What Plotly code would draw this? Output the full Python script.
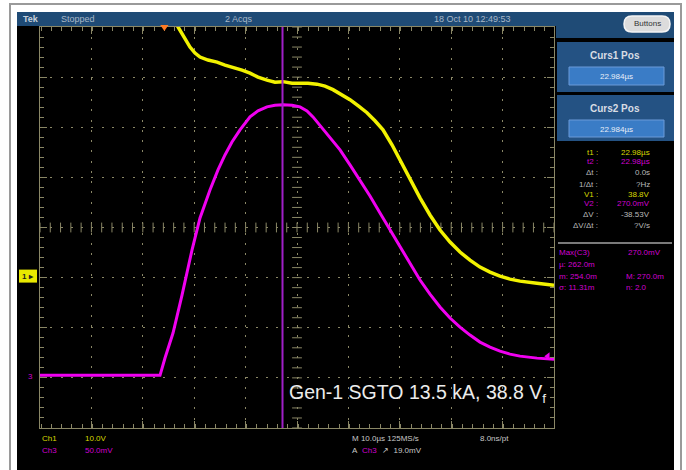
import numpy as np
import plotly.graph_objects as go

# ---------------- data ----------------
ch1_time_us = [1.09, 2.65, 3.82, 4.98, 5.96, 6.93, 8.48, 10.24, 11.79, 13.35, 15.10,
               16.66, 18.21, 19.96, 21.52, 23.08, 24.83, 26.38, 27.94, 29.69, 31.25,
               32.80, 34.55, 36.11, 37.67, 39.42, 40.97, 42.53, 44.28, 45.84, 47.78,
               49.73, 51.67, 53.62, 55.57, 57.51, 59.46, 61.40, 63.35, 65.29, 67.24,
               69.18, 72.49, 75.8]
ch1_volts = [52.4, 49.7, 47.7, 45.7, 44.5, 43.7, 43.1, 42.7, 42.1, 41.7, 41.1,
             40.5, 39.7, 39.1, 38.7, 38.8, 38.5, 38.5, 38.5, 38.3, 37.9,
             37.2, 36.2, 35.2, 34.0, 32.6, 31.0, 29.2, 26.2, 23.2, 19.2,
             15.6, 12.2, 9.2, 6.8, 4.8, 3.2, 1.8, 0.8, 0.0, -0.6,
             -1.0, -1.4, -1.8]

ch3_time_us = [-24.2, -0.85, 0.12, 1.68, 3.43, 5.37, 6.93, 8.87, 10.43, 11.79, 13.15,
               14.71, 16.66, 18.21, 19.96, 21.52, 23.08, 24.83, 26.38, 27.74, 28.91,
               29.89, 30.86, 32.61, 34.17, 36.11, 38.06, 40.00, 41.95, 43.89, 45.84,
               47.78, 49.73, 51.67, 53.62, 55.57, 57.51, 59.46, 61.40, 63.35, 65.29,
               67.24, 69.18, 72.49, 75.8]
ch3_mv = [0.0, 0.0, 17.3, 42.2, 80.1, 125.0, 157.0, 184.9, 204.9, 219.9, 232.8,
          244.8, 257.8, 263.8, 267.8, 269.5, 270.0, 269.5, 267.8, 263.8, 257.8,
          251.8, 244.8, 234.8, 224.9, 209.9, 194.9, 178.9, 161.9, 145.0, 128.0,
          111.1, 95.1, 81.1, 68.2, 57.2, 48.2, 40.2, 33.2, 28.2, 24.2,
          21.2, 19.2, 17.2, 16.2]

CH1_V_PER_DIV = 10.0
CH3_MV_PER_DIV = 50.0
CH1_GROUND_DIV = -0.97
CH3_GROUND_DIV = -2.95
T_LEFT, T_RIGHT = -24.2, 75.8
CURSOR_T = 22.98
TRIG_LEVEL_MV = 19.0

readout_labels = ["t1 :", "t2 :", "\u0394t :", "1/\u0394t :", "V1 :", "V2 :", "\u0394V :", "\u0394V/\u0394t :"]
readout_values = ["22.98\u00b5s", "22.98\u00b5s", "0.0s", "?Hz", "38.8V", "270.0mV", "-38.53V", "?V/s"]

# ---------------- styling ----------------
W, H = 686, 470
BLUE = "#1f4b76"
BLUE_BOX = "#245283"
BLUE_IN = "#3a7cc6"
GRID = "#8a8766"
YEL = "#f2f200"
MAG = "#f000f0"
CURS = "#a020c8"
GRAY_TXT = "#b8b8b8"


def X(px):
    return px / W


def Y(py):
    return 1 - py / H


ch1_div = [v / CH1_V_PER_DIV + CH1_GROUND_DIV for v in ch1_volts]
ch3_div = [v / CH3_MV_PER_DIV + CH3_GROUND_DIV for v in ch3_mv]

fig = go.Figure()

# centre crosshair tick marks
xt = np.arange(T_LEFT, T_RIGHT + 0.01, 2.0)
yt = np.arange(-4, 4.01, 0.2)
tc = (T_LEFT + T_RIGHT) / 2
fig.add_trace(go.Scatter(x=xt, y=np.zeros_like(xt), mode="markers",
                         marker=dict(symbol="line-ns", size=7, line=dict(color=GRID, width=1)),
                         hoverinfo="skip"))
fig.add_trace(go.Scatter(x=np.full_like(yt, tc), y=yt, mode="markers",
                         marker=dict(symbol="line-ew", size=7, line=dict(color=GRID, width=1)),
                         hoverinfo="skip"))

# traces
fig.add_trace(go.Scatter(x=ch3_time_us, y=ch3_div, mode="lines",
                         line=dict(color=MAG, width=3),
                         hoverinfo="skip"))
fig.add_trace(go.Scatter(x=ch1_time_us, y=ch1_div, mode="lines",
                         line=dict(color=YEL, width=3.5),
                         hoverinfo="skip"))

# trigger level marker (right edge)
fig.add_trace(go.Scatter(x=[T_RIGHT - 1.2], y=[TRIG_LEVEL_MV / CH3_MV_PER_DIV + CH3_GROUND_DIV],
                         mode="markers", marker=dict(symbol="triangle-left", size=7, color=MAG),
                         hoverinfo="skip"))

shapes = []
# outer frame + screen
shapes.append(dict(type="rect", xref="paper", yref="paper", x0=X(10), x1=X(681), y0=Y(475), y1=Y(4),
                   line=dict(color="#9a9a9a", width=2), fillcolor="white", layer="below"))
shapes.append(dict(type="rect", xref="paper", yref="paper", x0=X(17), x1=X(674), y0=Y(475), y1=Y(12),
                   line=dict(width=0), fillcolor="black", layer="below"))
shapes.append(dict(type="rect", xref="paper", yref="paper", x0=X(17), x1=X(674), y0=Y(26), y1=Y(12),
                   line=dict(width=0), fillcolor=BLUE, layer="below"))
shapes.append(dict(type="rect", xref="paper", yref="paper", x0=X(556), x1=X(674), y0=Y(38), y1=Y(12),
                   line=dict(width=0), fillcolor=BLUE, layer="below"))
# cursor boxes
for (t0, t1, i0, i1) in [(42, 92, 67, 85), (95, 141, 120, 137)]:
    shapes.append(dict(type="rect", xref="paper", yref="paper", x0=X(557), x1=X(674), y0=Y(t1), y1=Y(t0),
                       line=dict(width=0), fillcolor=BLUE_BOX, layer="below"))
    shapes.append(dict(type="rect", xref="paper", yref="paper", x0=X(569), x1=X(664), y0=Y(i1), y1=Y(i0),
                       line=dict(color="#6a9ad8", width=1), fillcolor=BLUE_IN, layer="below"))
# separator
shapes.append(dict(type="line", xref="paper", yref="paper", x0=X(558), x1=X(672), y0=Y(243), y1=Y(243),
                   line=dict(color="#7a7a7a", width=2)))


# Buttons pill
def pill(x0, y0, x1, y1):
    r = (y1 - y0) / 2
    ym = (y0 + y1) / 2
    p = lambda a, b: f"{X(a):.5f},{Y(b):.5f}"
    return (f"M {p(x0 + r, y0)} L {p(x1 - r, y0)} Q {p(x1, y0)} {p(x1, ym)} "
            f"Q {p(x1, y1)} {p(x1 - r, y1)} L {p(x0 + r, y1)} Q {p(x0, y1)} {p(x0, ym)} "
            f"Q {p(x0, y0)} {p(x0 + r, y0)} Z")


shapes.append(dict(type="path", xref="paper", yref="paper", path=pill(624, 16, 670, 32),
                   fillcolor="#dcdcdc", line=dict(color="#f4f4f4", width=1.5)))

# cursor line
shapes.append(dict(type="line", xref="x", yref="y", x0=CURSOR_T, x1=CURSOR_T, y0=-4, y1=4,
                   line=dict(color=CURS, width=2)))
# trigger position marker (orange triangle at t=0)
shapes.append(dict(type="path", xref="x", yref="paper",
                   path=f"M -0.8,{Y(25):.5f} L 0.8,{Y(25):.5f} L 0,{Y(31):.5f} Z",
                   fillcolor="#ff7a22", line=dict(width=0)))
# ch1 ground marker box
g1y = 227.5 - CH1_GROUND_DIV * 50.1
shapes.append(dict(type="rect", xref="paper", yref="paper", x0=X(19), x1=X(37), y0=Y(g1y + 6.5), y1=Y(g1y - 6.5),
                   fillcolor="#e8e800", line=dict(width=0)))

ann = []


def txt(x, y, s, color="#d0d0d0", size=9, anchor="left", family="Liberation Sans", bold=False):
    if bold:
        s = f"<b>{s}</b>"
    ann.append(dict(x=X(x), y=Y(y), xref="paper", yref="paper", text=s, showarrow=False,
                    xanchor=anchor, yanchor="middle",
                    font=dict(color=color, size=size, family=family)))


# top bar
txt(21, 19, "Tek", "#c8d2dc", 9, bold=True)
txt(59, 19, "Stopped", "#a8b8c8", 9)
txt(223, 19, "2 Acqs", "#a8b8c8", 9)
txt(432, 19, "18 Oct 10 12:49:53", "#a8b8c8", 9)
txt(647, 24, "Buttons", "#333333", 8, anchor="center")

# cursor boxes
txt(615, 56, "Curs1 Pos", "#d8dde4", 10, anchor="center", bold=True)
txt(616, 76, "22.984\u00b5s", "#e8eef8", 8, anchor="center")
txt(615, 108, "Curs2 Pos", "#d8dde4", 10, anchor="center", bold=True)
txt(616, 129, "22.984\u00b5s", "#e8eef8", 8, anchor="center")

# readouts
rcolors = [YEL, MAG, GRAY_TXT, GRAY_TXT, YEL, MAG, GRAY_TXT, GRAY_TXT]
ys = [152, 162, 173, 184, 194, 204, 215, 226]
for lab, val, c, yy in zip(readout_labels, readout_values, rcolors, ys):
    c2 = "#d8d800" if c == YEL else ("#d000d0" if c == MAG else c)
    txt(600, yy, lab, c2, 8, anchor="right")
    txt(652, yy, val, c2, 8, anchor="right")

M3 = "#d000d0"
txt(557, 252, "Max(C3)", M3, 8)
txt(626, 252, "270.0mV", M3, 8)
txt(557, 264, "\u00b5: 262.0m", M3, 8)
txt(557, 276, "m: 254.0m", M3, 8)
txt(624, 276, "M: 270.0m", M3, 8)
txt(557, 287, "\u03c3: 11.31m", M3, 8)
txt(624, 287, "n: 2.0", M3, 8)

# bottom status
txt(40, 438, "Ch1", "#d8d800", 8)
txt(83, 438, "10.0V", "#d8d800", 8)
txt(40, 450, "Ch3", M3, 8)
txt(83, 450, "50.0mV", M3, 8)
txt(350, 438, "M 10.0\u00b5s 125MS/s", "#c8c8c8", 8)
txt(478, 438, "8.0ns/pt", "#c8c8c8", 8)
txt(350, 450, "A", "#c8c8c8", 8)
txt(360, 450, "Ch3", M3, 8)
txt(380, 450, "\u2197  19.0mV", "#c8c8c8", 8)

# ground labels
txt(28, g1y, "1 \u25b8", "#202020", 8, anchor="center", bold=True)
g3y = 227.5 - CH3_GROUND_DIV * 50.1
txt(30, g3y + 1, "3", M3, 8, anchor="center")

# overlay title text
txt(287, 393, "Gen-1 SGTO 13.5 kA, 38.8 V<sub>f</sub>", "#ececec", 19.5, family="Liberation Sans")

axis_common = dict(showgrid=True, gridcolor=GRID, griddash="2px,8.28px", gridwidth=1,
                   zeroline=False, showticklabels=False, ticks="inside", ticklen=7,
                   tickcolor=GRID, showline=True, linecolor=GRID, linewidth=1,
                   mirror="allticks", fixedrange=True)

fig.update_layout(
    width=W, height=H, margin=dict(l=0, r=0, t=0, b=0),
    paper_bgcolor="white", plot_bgcolor="black", showlegend=False,
    xaxis=dict(range=[T_LEFT, T_RIGHT], domain=[X(40), X(554)], tick0=T_LEFT, dtick=10,
               minor=dict(dtick=2, ticks="inside", ticklen=4, tickcolor=GRID, showgrid=False),
               **axis_common),
    yaxis=dict(range=[-4, 4], domain=[Y(428), Y(27)], tick0=-4, dtick=1,
               minor=dict(dtick=0.2, ticks="inside", ticklen=4, tickcolor=GRID, showgrid=False),
               **axis_common),
    shapes=shapes, annotations=ann,
)

fig.write_html("out.html", config={"displayModeBar": False},
               post_script="document.body.style.margin='0';document.body.style.overflow='hidden';")
